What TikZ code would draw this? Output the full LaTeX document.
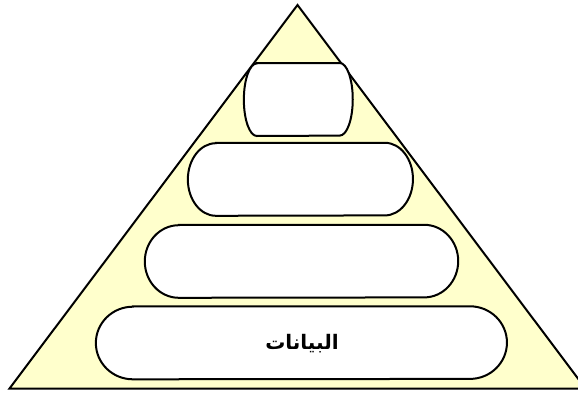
\documentclass[tikz,border=0pt]{standalone}
\usepackage{fontspec}
\newfontfamily\arabicfont[Script=Arabic, BoldFont={DejaVu Sans Bold}]{DejaVu Sans}
\TeXXeTstate=1
\usetikzlibrary{backgrounds}

\definecolor{pyramidfill}{HTML}{FFFFCC}

% outline of a level: #1 node name, #2 x radius of the ends
\newcommand{\levelframe}[2]{%
  \filldraw[frame] ([xshift=#2]#1.north west) -- ([xshift=-#2]#1.north east)
    arc[start angle=90, end angle=-90, x radius=#2, y radius=36.3pt]
    -- ([xshift=#2]#1.south west)
    arc[start angle=270, end angle=90, x radius=#2, y radius=36.3pt]
    -- cycle;}

\begin{document}
\begin{tikzpicture}[
  x=1pt, y=1pt,
  level/.style={inner sep=0pt, minimum height=72.6pt},
  frame/.style={draw=black, fill=white, line width=2pt},
  pyramid/.style={draw=black, fill=pyramidfill, line width=2pt, line join=miter},
  lbl/.style={font=\fontsize{20}{24}\selectfont\arabicfont\bfseries}
]
\useasboundingbox (0,0) rectangle (578,392);

\coordinate (apex) at (297.5,387);
\coordinate (baseL) at (9.5,3.5);
\coordinate (baseR) at (585.5,3.5);

\node[level, minimum width=108.5pt] (tier1) at (298.3,292.5) {};
\node[level, minimum width=224.7pt] (tier2) at (300.4,212.7) {};
\node[level, minimum width=313pt] (tier3) at (301.5,130.7) {};
\node[level, minimum width=410.7pt] (tier4) at (301.4,49.2) {};
\node[lbl] (data) at (302,48) {\beginR البيانات\endR};

\begin{scope}[on background layer]
  \clip (0,0) rectangle (578,392);
  \draw[pyramid] (apex) -- (baseL) -- (baseR) -- cycle;
  \levelframe{tier1}{13pt}
  \levelframe{tier2}{28pt}
  \levelframe{tier3}{34pt}
  \levelframe{tier4}{37pt}
\end{scope}

\end{tikzpicture}
\end{document}
